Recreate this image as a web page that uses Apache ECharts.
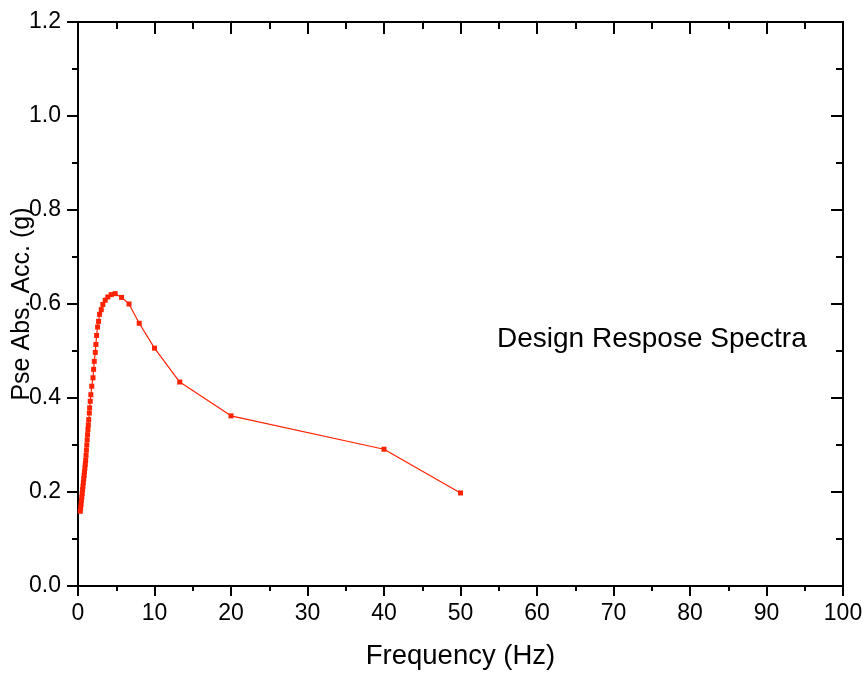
<!DOCTYPE html>
<html>
<head>
<meta charset="utf-8">
<script src="https://cdn.jsdelivr.net/npm/echarts@6/dist/echarts.min.js"></script>
<style>
  html, body { margin: 0; padding: 0; background: #fff; }
  #spectra { width: 865px; height: 678px; }
</style>
</head>
<body>
<div id="spectra"></div>
<script>
/* design response spectra */

var freqHz = [0.30, 0.35, 0.40, 0.45, 0.50, 0.55, 0.60, 0.65, 0.70, 0.75,
              0.80, 0.85, 0.90, 0.95, 1.00, 1.05, 1.10, 1.15, 1.20, 1.25,
              1.30, 1.35, 1.40, 1.48, 1.52, 1.60, 1.68, 1.80, 1.96, 2.04,
              2.13, 2.26, 2.34, 2.43, 2.56, 2.69, 2.82, 3.04, 3.25, 3.56,
              3.90, 4.34, 4.86, 5.70, 6.67, 8.0, 10.0, 13.3, 20.0, 40.0, 50.0];
var accG = [0.159, 0.166, 0.174, 0.182, 0.189, 0.197, 0.205, 0.212, 0.220, 0.228,
            0.235, 0.243, 0.251, 0.259, 0.267, 0.278, 0.289, 0.300, 0.311, 0.322,
            0.333, 0.343, 0.354, 0.368, 0.379, 0.393, 0.407, 0.425, 0.443, 0.461,
            0.478, 0.497, 0.514, 0.533, 0.551, 0.563, 0.578, 0.588, 0.599, 0.608,
            0.615, 0.620, 0.622, 0.614, 0.600, 0.559, 0.506, 0.434, 0.362, 0.291, 0.198];

var seriesLabel = 'Design Respose Spectra';
var xName = 'Frequency (Hz)';
var yName = 'Pse Abs. Acc. (g)';

var pts = [];
for (var i = 0; i < freqHz.length; i++) {
    pts.push([freqHz[i], accG[i]]);
}

var FONT = '"Liberation Sans", Arial, sans-serif';
var lineBlack = { color: '#000', width: 2 };

var myChart = echarts.init(document.getElementById('spectra'));
var option = {
    animation: false,
    backgroundColor: '#fff',
    grid: {
        left: 78,
        right: 22,
        top: 22,
        bottom: 92,
        containLabel: false,
        outerBoundsMode: 'none'
    },
    xAxis: [
        {
            type: 'value',
            position: 'bottom',
            min: 0,
            max: 100,
            interval: 10,
            name: xName,
            nameLocation: 'middle',
            nameGap: 56,
            nameMoveOverlap: false,
            nameTextStyle: { color: '#000', fontSize: 27.5, fontFamily: FONT },
            axisLine: { show: true, lineStyle: lineBlack },
            axisTick: { show: true, length: 10, lineStyle: lineBlack },
            minorTick: { show: true, splitNumber: 2, length: 5, lineStyle: lineBlack },
            axisLabel: { color: '#000', fontSize: 23, fontFamily: FONT, margin: 16 },
            splitLine: { show: false }
        },
        {
            type: 'value',
            position: 'top',
            min: 0,
            max: 100,
            interval: 10,
            axisLine: { show: true, onZero: false, lineStyle: lineBlack },
            axisTick: { show: true, inside: true, length: 12, lineStyle: lineBlack },
            minorTick: { show: true, splitNumber: 2, length: 7, lineStyle: lineBlack },
            axisLabel: { show: false },
            splitLine: { show: false }
        }
    ],
    yAxis: [
        {
            type: 'value',
            position: 'left',
            min: 0,
            max: 1.2,
            interval: 0.2,
            name: yName,
            nameLocation: 'middle',
            nameGap: 43,
            nameMoveOverlap: false,
            nameTextStyle: { color: '#000', fontSize: 25, fontFamily: FONT },
            axisLine: { show: true, lineStyle: lineBlack },
            axisTick: { show: true, length: 11, lineStyle: lineBlack },
            minorTick: { show: true, splitNumber: 2, length: 6, lineStyle: lineBlack },
            axisLabel: {
                color: '#000', fontSize: 23, fontFamily: FONT, margin: 17,
                formatter: function (v) { return v.toFixed(1); }
            },
            splitLine: { show: false }
        },
        {
            type: 'value',
            position: 'right',
            min: 0,
            max: 1.2,
            interval: 0.2,
            axisLine: { show: true, onZero: false, lineStyle: lineBlack },
            axisTick: { show: true, inside: true, length: 12, lineStyle: lineBlack },
            minorTick: { show: true, splitNumber: 2, length: 7, lineStyle: lineBlack },
            axisLabel: { show: false },
            splitLine: { show: false }
        }
    ],
    graphic: [
        {
            type: 'text',
            left: 497,
            top: 325,
            style: {
                text: seriesLabel,
                fill: '#000',
                font: '28px ' + FONT
            }
        }
    ],
    series: [
        {
            name: seriesLabel,
            type: 'line',
            xAxisIndex: 0,
            yAxisIndex: 0,
            data: pts,
            symbol: 'rect',
            symbolSize: 5,
            showSymbol: true,
            itemStyle: { color: '#ff2200' },
            lineStyle: { color: '#ff2200', width: 1.2 }
        }
    ]
};
myChart.setOption(option);
</script>
</body>
</html>
